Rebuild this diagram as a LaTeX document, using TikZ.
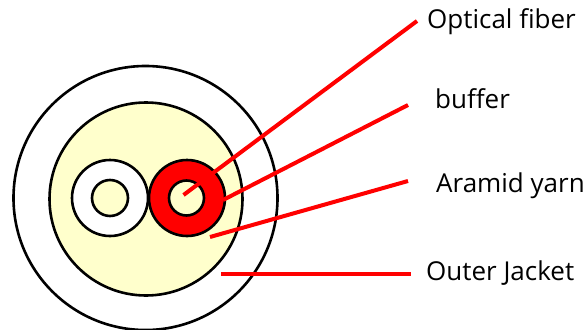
\documentclass[tikz,border=0pt]{standalone}
\usepackage{fontspec}
\setmainfont{Open Sans}
\usetikzlibrary{positioning}
\definecolor{jacketfill}{RGB}{255,255,204}
\tikzset{
ring/.style={
	circle,
	draw=black,
	line width=2.6pt,
	inner sep=0pt
},
leader/.style={
	draw=red,
	line width=4pt
},
tag/.style={
	anchor=base west,
	inner sep=0pt,
	font=\fontsize{26pt}{28pt}\selectfont
}
}
\begin{document}
\begin{tikzpicture}[x=1pt, y=-1pt]
\useasboundingbox (0,0) rectangle (585,329);

\node (jacket) [ring, fill=white, minimum size=264pt] at (145.5,198) {};
\node (yarn)   [ring, fill=jacketfill, minimum size=193pt] at (146,199) {};
\node (leftbuffer)  [ring, fill=white, minimum size=76pt] at (110,198) {};
\node (leftcore)    [ring, fill=jacketfill, minimum size=36pt] at (110,198) {};
\node (rightbuffer) [ring, fill=red, minimum size=76pt] at (187,198) {};
\node (rightcore)   [ring, fill=jacketfill, minimum size=35pt] at (186.5,198) {};

\node (fibertag)  [tag] at (427,29) {Optical fiber};
\node (buffertag) [tag] at (435,108) {buffer};
\node (yarntag)   [tag] at (436,192) {Aramid yarn};
\node (outertag)  [tag] at (426,280) {Outer Jacket};

\coordinate (fiberpoint)  at (183.5,195);
\coordinate (bufferpoint) at (223,200);
\coordinate (yarnpoint)   at (210,237);
\coordinate (outerpoint)  at (221,274);

\draw [leader] (fiberpoint) -- ([xshift=-10pt,yshift=8pt]fibertag.base west);
\draw [leader] (bufferpoint) -- ([xshift=-27pt,yshift=3pt]buffertag.base west);
\draw [leader] (yarnpoint) -- ([xshift=-28pt,yshift=11pt]yarntag.base west);
\draw [leader] (outerpoint) -- ([xshift=-15pt,yshift=6pt]outertag.base west);

\end{tikzpicture}
\end{document}
